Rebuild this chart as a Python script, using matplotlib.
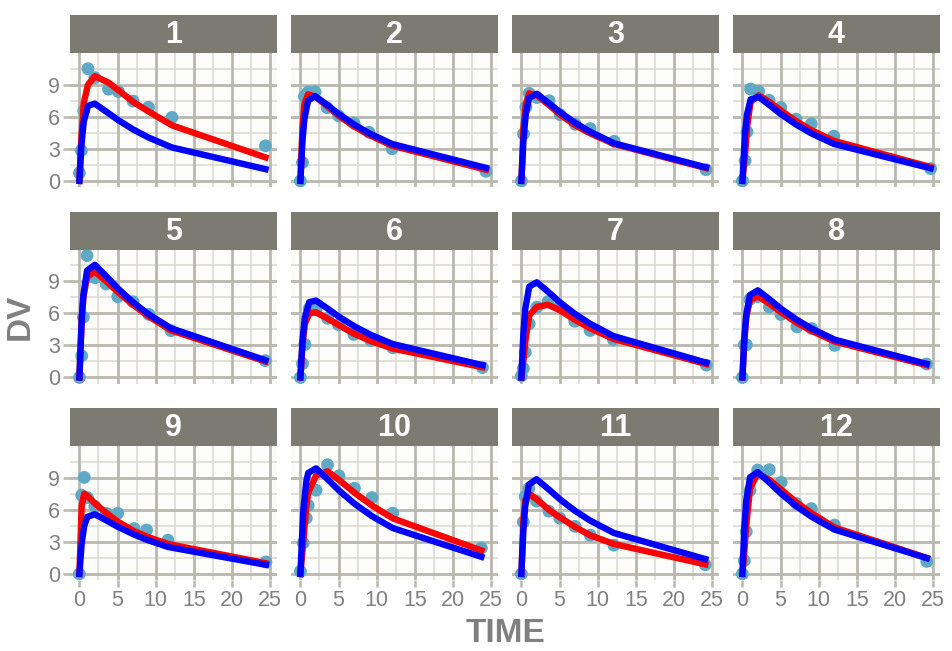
import numpy as np
import matplotlib.pyplot as plt

plt.rcParams['font.family'] = ['Liberation Sans', 'DejaVu Sans']

ids = list(range(1, 13))

# sampling times (h) per subject
time = [
    [0, 0.25, 0.57, 1.12, 2.02, 3.82, 5.10, 7.03, 9.05, 12.12, 24.37],
    [0, 0.27, 0.52, 1.00, 1.92, 3.50, 5.02, 7.03, 9.00, 12.00, 24.30],
    [0, 0.27, 0.58, 1.02, 2.02, 3.62, 5.08, 7.07, 9.00, 12.15, 24.17],
    [0, 0.35, 0.60, 1.07, 2.13, 3.50, 5.02, 7.02, 9.02, 11.98, 24.65],
    [0, 0.30, 0.52, 1.00, 2.02, 3.50, 5.02, 7.02, 9.10, 12.00, 24.35],
    [0, 0.27, 0.58, 1.15, 2.03, 3.57, 5.00, 7.00, 9.22, 12.10, 23.85],
    [0, 0.25, 0.50, 1.02, 2.02, 3.48, 5.00, 6.98, 9.00, 12.05, 24.22],
    [0, 0.25, 0.52, 0.98, 2.02, 3.53, 5.05, 7.15, 9.07, 12.10, 24.12],
    [0, 0.30, 0.63, 1.05, 2.02, 3.53, 5.02, 7.17, 8.80, 11.60, 24.43],
    [0, 0.37, 0.77, 1.02, 2.05, 3.55, 5.05, 7.08, 9.38, 12.10, 23.70],
    [0, 0.25, 0.50, 0.98, 1.98, 3.60, 5.02, 7.03, 9.03, 12.12, 24.08],
    [0, 0.25, 0.50, 1.00, 2.00, 3.52, 5.07, 7.07, 9.03, 12.05, 24.15],
]

# observed concentrations
dv = [
    [0.74, 2.84, 6.57, 10.50, 9.66, 8.58, 8.36, 7.47, 6.89, 5.94, 3.28],
    [0.00, 1.72, 7.91, 8.31, 8.33, 6.85, 6.08, 5.40, 4.55, 3.01, 0.90],
    [0.00, 4.40, 6.90, 8.20, 7.80, 7.50, 6.20, 5.30, 4.90, 3.70, 1.05],
    [0.00, 1.89, 4.60, 8.60, 8.38, 7.54, 6.88, 5.78, 5.33, 4.19, 1.15],
    [0.00, 2.02, 5.63, 11.40, 9.33, 8.74, 7.56, 7.09, 5.90, 4.37, 1.57],
    [0.00, 1.29, 3.08, 6.44, 6.32, 5.53, 4.94, 4.02, 3.46, 2.78, 0.92],
    [0.15, 0.85, 2.35, 5.02, 6.58, 7.09, 6.66, 5.25, 4.39, 3.53, 1.15],
    [0.00, 3.05, 3.05, 7.31, 7.56, 6.59, 5.88, 4.73, 4.57, 3.00, 1.25],
    [0.00, 7.37, 9.03, 7.14, 6.33, 5.66, 5.67, 4.24, 4.11, 3.16, 1.12],
    [0.24, 2.89, 5.22, 6.41, 7.83, 10.21, 9.18, 8.02, 7.14, 5.68, 2.42],
    [0.00, 4.86, 7.24, 8.00, 6.81, 5.87, 5.22, 4.45, 3.62, 2.69, 0.86],
    [0.00, 1.25, 3.96, 7.82, 9.72, 9.75, 8.57, 6.59, 6.11, 4.57, 1.17],
]

# individual predictions (red)
ipred = [
    [0, 4.0, 7.3, 9.0, 9.8, 9.2, 8.5, 7.4, 6.5, 5.2, 2.2],
    [0, 5.0, 7.2, 8.1, 7.9, 7.0, 6.1, 5.1, 4.3, 3.3, 1.05],
    [0, 5.0, 7.2, 8.2, 8.0, 7.1, 6.2, 5.2, 4.45, 3.45, 1.2],
    [0, 2.5, 5.0, 7.4, 8.0, 7.4, 6.6, 5.6, 4.75, 3.75, 1.3],
    [0, 5.5, 7.5, 9.4, 9.9, 9.0, 8.0, 6.8, 5.7, 4.4, 1.5],
    [0, 3.0, 5.0, 6.0, 6.1, 5.5, 4.9, 4.1, 3.4, 2.7, 0.95],
    [0, 1.5, 3.3, 5.8, 6.6, 6.8, 6.3, 5.4, 4.6, 3.6, 1.25],
    [0, 3.5, 5.7, 7.2, 7.6, 6.9, 6.1, 5.1, 4.35, 3.35, 1.15],
    [0, 6.4, 7.5, 7.3, 6.6, 5.7, 4.9, 4.0, 3.5, 2.8, 1.0],
    [0, 3.0, 6.3, 7.6, 9.2, 9.6, 8.8, 7.6, 6.4, 5.2, 2.2],
    [0, 5.0, 6.9, 7.5, 7.0, 6.0, 5.3, 4.4, 3.6, 2.8, 0.9],
    [0, 2.0, 4.5, 8.0, 9.4, 8.8, 7.9, 6.7, 5.7, 4.35, 1.5],
]

# population predictions (blue)
pred = [
    [0, 3.26, 5.55, 7.03, 7.23, 6.33, 5.68, 4.82, 4.06, 3.13, 1.10],
    [0, 3.78, 5.79, 7.51, 7.94, 7.12, 6.26, 5.28, 4.46, 3.46, 1.22],
    [0, 3.90, 6.31, 7.78, 8.15, 7.26, 6.42, 5.42, 4.60, 3.52, 1.27],
    [0, 4.55, 6.22, 7.62, 7.86, 7.12, 6.26, 5.28, 4.45, 3.46, 1.18],
    [0, 5.44, 7.70, 10.0, 10.54, 9.48, 8.34, 7.03, 5.89, 4.60, 1.61],
    [0, 3.44, 5.57, 7.04, 7.19, 6.44, 5.70, 4.81, 3.98, 3.12, 1.15],
    [0, 4.02, 6.37, 8.49, 8.90, 8.03, 7.05, 5.96, 5.02, 3.87, 1.38],
    [0, 3.68, 5.96, 7.70, 8.15, 7.32, 6.43, 5.38, 4.57, 3.53, 1.27],
    [0, 2.88, 4.49, 5.35, 5.58, 5.01, 4.41, 3.68, 3.20, 2.52, 0.85],
    [0, 5.90, 8.66, 9.44, 9.88, 8.87, 7.81, 6.57, 5.40, 4.29, 1.60],
    [0, 4.00, 6.34, 8.36, 8.86, 7.90, 7.00, 5.90, 4.98, 3.83, 1.39],
    [0, 4.30, 6.82, 9.04, 9.53, 8.56, 7.51, 6.33, 5.36, 4.15, 1.48],
]

x_ticks = [0, 5, 10, 15, 20, 25]
y_ticks = [0, 3, 6, 9]

W, H = 952, 651
fig = plt.figure(figsize=(W / 100, H / 100), dpi=100)

grid_major = '#b8b8af'
grid_minor = '#d9d9d0'
strip_col = '#7b7b72'
text_col = '#808080'

all_t = np.concatenate([np.array(t) for t in time])
all_y = np.concatenate([np.array(d) for d in dv])
xpad = 0.05 * (all_t.max() - all_t.min())
ypad = 0.05 * (all_y.max() - all_y.min())
xlim = (all_t.min() - xpad, all_t.max() + xpad)
ylim = (all_y.min() - ypad, all_y.max() + ypad)

pw, ph, sh = 207, 134, 38
for i, sid in enumerate(ids):
    r, c = divmod(i, 4)
    left = 70 + 221 * c
    top = 53 + 196.5 * r
    ax = fig.add_axes([left / W, 1 - (top + ph) / H, pw / W, ph / H])
    ax.set_facecolor('#fcfcfa')
    ax.set_xlim(*xlim)
    ax.set_ylim(*ylim)

    for v in np.arange(2.5, 25, 5):
        ax.axvline(v, color=grid_minor, lw=1.1, zorder=0)
    for v in np.arange(1.5, 12, 3):
        ax.axhline(v, color=grid_minor, lw=1.1, zorder=0)
    for v in x_ticks:
        ax.axvline(v, color=grid_major, lw=2.0, zorder=0.5)
    for v in y_ticks:
        ax.axhline(v, color=grid_major, lw=2.0, zorder=0.5)

    ax.scatter(time[i], dv[i], s=85, color='#5ea9c6', edgecolors='none', zorder=2)
    ax.plot(time[i], ipred[i], color='#ff0000', lw=4.6, zorder=3, solid_joinstyle='round')
    ax.plot(time[i], pred[i], color='#0000ff', lw=4.6, zorder=4, solid_joinstyle='round')

    for s in ax.spines.values():
        s.set_visible(False)
    ax.set_xticks(x_ticks)
    ax.set_yticks(y_ticks)
    ax.tick_params(colors=grid_major, width=1.8, length=5, labelcolor=text_col, labelsize=15.5, pad=2)
    if c != 0:
        ax.tick_params(axis='y', left=False, labelleft=False)
    if r != 2:
        ax.tick_params(axis='x', bottom=False, labelbottom=False)

    sax = fig.add_axes([left / W, 1 - top / H, pw / W, sh / H])
    sax.set_facecolor(strip_col)
    sax.set_xticks([])
    sax.set_yticks([])
    for s in sax.spines.values():
        s.set_visible(False)
    sax.text(0.5, 0.47, str(sid), ha='center', va='center', color='white',
             fontsize=22, fontweight='bold', transform=sax.transAxes)

fig.text(0.5 * (70 + 70 + 221 * 3 + pw) / W, 1 - 634 / H, 'TIME', ha='center', va='center',
         fontsize=24, fontweight='bold', color=text_col)
fig.text(20 / W, 1 - (53 + 196.5 + ph / 2) / H, 'DV', ha='center', va='center', rotation=90,
         fontsize=24, fontweight='bold', color=text_col)

fig.savefig('out.png', dpi=100, facecolor='white')
